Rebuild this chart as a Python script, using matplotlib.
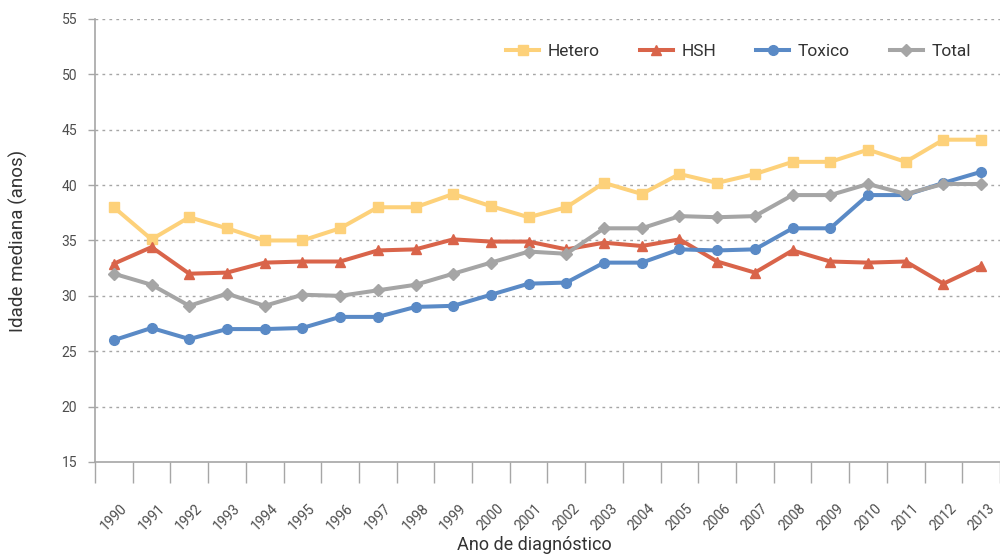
import matplotlib
matplotlib.use("Agg")
import matplotlib.pyplot as plt
import numpy as np

years = [str(y) for y in range(1990, 2014)]
hetero = [38.0, 35.1, 37.1, 36.1, 35.0, 35.0, 36.1, 38.0, 38.0, 39.2, 38.1, 37.1,
          38.0, 40.2, 39.2, 41.0, 40.2, 41.0, 42.1, 42.1, 43.2, 42.1, 44.1, 44.1]
hsh = [32.9, 34.4, 32.0, 32.1, 33.0, 33.1, 33.1, 34.1, 34.2, 35.1, 34.9, 34.9,
       34.2, 34.8, 34.5, 35.1, 33.1, 32.1, 34.1, 33.1, 33.0, 33.1, 31.1, 32.7]
toxico = [26.0, 27.1, 26.1, 27.0, 27.0, 27.1, 28.1, 28.1, 29.0, 29.1, 30.1, 31.1,
          31.2, 33.0, 33.0, 34.2, 34.1, 34.2, 36.1, 36.1, 39.1, 39.1, 40.2, 41.2]
total = [32.0, 31.0, 29.1, 30.2, 29.1, 30.1, 30.0, 30.5, 31.0, 32.0, 33.0, 34.0,
         33.8, 36.1, 36.1, 37.2, 37.1, 37.2, 39.1, 39.1, 40.1, 39.2, 40.1, 40.1]

plt.rcParams['font.family'] = ['Roboto', 'DejaVu Sans']

fig = plt.figure(figsize=(10, 5.55), dpi=100)
ax = fig.add_axes([0.095, 0.1676, 0.905, 0.7982])

x = np.arange(len(years))
lw = 2.9
ms = 6.5
ax.plot(x, hetero, color='#FDD17A', lw=lw, marker='s', ms=ms, label='Hetero')
ax.plot(x, hsh, color='#D9644A', lw=lw, marker='^', ms=ms + 0.5, label='HSH')
ax.plot(x, toxico, color='#5A8AC6', lw=lw, marker='o', ms=ms + 0.5, label='Toxico')
ax.plot(x, total, color='#A5A5A5', lw=lw, marker='D', ms=ms - 0.5, label='Total')

ax.set_ylim(15, 55)
ax.set_yticks(range(15, 60, 5))
ax.set_xlim(-0.5, -0.5 + 905 / 37.9)
ax.set_xticks(x)
ax.set_xticklabels(years, rotation=45, ha='center')
ax.set_xticks(np.arange(-0.5, len(years), 1.0), minor=True)
ax.tick_params(axis='x', which='major', length=0, pad=28, labelsize=10, colors='#4d4d4d')
ax.tick_params(axis='x', which='minor', length=15, width=1, color='#A6A6A6')
ax.tick_params(axis='y', length=5, width=1, color='#A6A6A6', labelsize=10,
               labelcolor='#4d4d4d', pad=8)

for v in range(20, 60, 5):
    ax.axhline(v, color='#A6A6A6', lw=1, ls=(0, (2, 3)), zorder=0)

for s in ['top', 'right']:
    ax.spines[s].set_visible(False)
for s in ['left', 'bottom']:
    ax.spines[s].set_color('#A6A6A6')
    ax.spines[s].set_linewidth(1.2)

ax.set_ylabel('Idade mediana (anos)', fontsize=13.5, color='#333333', labelpad=24)
ax.set_xlabel('Ano de diagnóstico', fontsize=13, color='#333333', va='center')
ax.xaxis.set_label_coords(0.485, -0.187)

leg = ax.legend(loc='upper right', bbox_to_anchor=(0.985, 0.98), ncol=4, frameon=False,
                fontsize=12.5, handlelength=1.9, columnspacing=2.3, handletextpad=0.5)
for t in leg.get_texts():
    t.set_color('#333333')

fig.savefig('out.png', dpi=100)
